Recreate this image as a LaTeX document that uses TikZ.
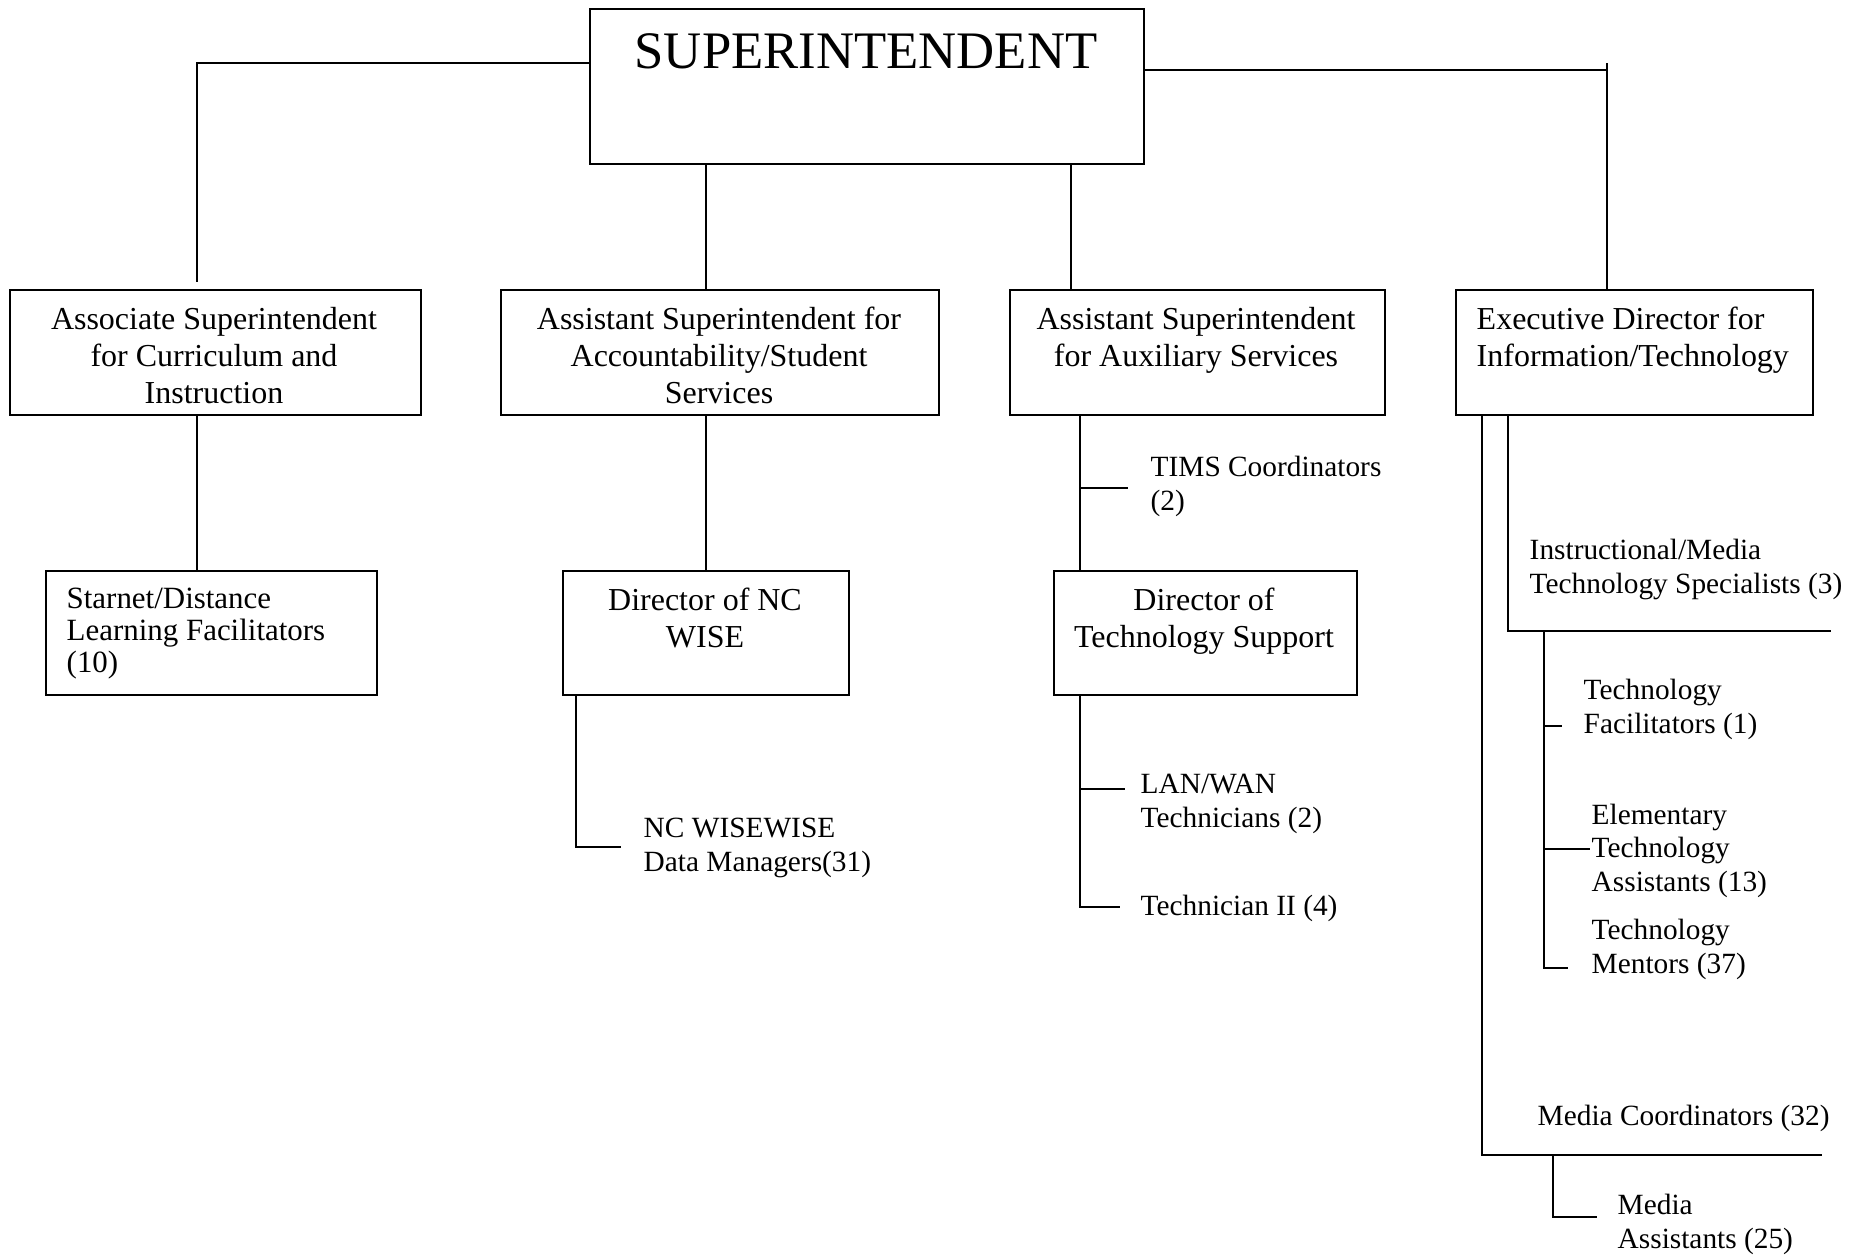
\documentclass[tikz,border=0pt]{standalone}
\usepackage{fontspec}
\setmainfont{Liberation Serif}
\usepackage{tikz}
\usetikzlibrary{positioning}
\newcommand{\topfont}{\fontsize{15}{18}\selectfont}
\newcommand{\boxfont}{\fontsize{9.1}{10.5}\selectfont}
\newcommand{\smallboxfont}{\fontsize{8.8}{9.1}\selectfont}
\newcommand{\lblfont}{\fontsize{8.35}{9.5}\selectfont}
\tikzset{
  unit/.style={draw, line width=0.6pt, inner sep=0pt, anchor=north west},
  unittext/.style={font=\boxfont, align=center, inner sep=0pt, anchor=base},
  staff/.style={font=\lblfont, align=left, inner sep=0pt, anchor=base west},
  link/.style={line width=0.6pt}
}

\begin{document}
\begin{tikzpicture}[x=0.1mm,y=-0.1mm]
\useasboundingbox (0,0) rectangle (1864,1256);
% boxes
\node[unit, minimum width=55.4mm, minimum height=15.5mm] (super) at (589,8) {};
\node[unit, minimum width=41.1mm, minimum height=12.5mm] (assoc) at (9,289) {};
\node[unit, minimum width=43.8mm, minimum height=12.5mm] (acct) at (500,289) {};
\node[unit, minimum width=37.5mm, minimum height=12.5mm] (aux) at (1009,289) {};
\node[unit, minimum width=35.7mm, minimum height=12.5mm] (infotech) at (1455,289) {};
\node[unit, minimum width=33.1mm, minimum height=12.4mm] (starnet) at (45,570) {};
\node[unit, minimum width=28.6mm, minimum height=12.4mm] (ncwise) at (562,570) {};
\node[unit, minimum width=30.3mm, minimum height=12.4mm] (techsup) at (1053,570) {};
% box titles (placed by the baseline of their last line)
\node[unittext, font=\topfont] (supertxt) at (866,68) {SUPERINTENDENT};
\node[unittext] (assoctxt) at (214,403) {Associate Superintendent\\for Curriculum and\\Instruction};
\node[unittext] (accttxt) at (719,403) {Assistant Superintendent for\\Accountability/Student\\Services};
\node[unittext] (auxtxt) at (1196,366) {Assistant Superintendent\\for Auxiliary Services};
\node[unittext, align=left, anchor=base west] (infotechtxt) at (1476,366) {Executive Director for\\Information/Technology};
\node[staff, font=\smallboxfont] (starnettxt) at (66,672) {Starnet/Distance\\Learning Facilitators\\(10)};
\node[unittext] (ncwisetxt) at (705,647) {Director of NC\\WISE};
\node[unittext] (techsuptxt) at (1204,647) {Director of\\Technology Support};
% staff groups
\node[staff] (tims) at (1150,510) {TIMS Coordinators\\(2)};
\node[staff] (lanwan) at (1140,827) {LAN/WAN\\Technicians (2)};
\node[staff] (tech2) at (1140,915) {Technician II (4)};
\node[staff] (ncdata) at (643,871) {NC WISEWISE\\Data Managers(31)};
\node[staff] (instr) at (1529,593) {Instructional/Media\\Technology Specialists (3)};
\node[staff] (techfac) at (1583,733) {Technology\\Facilitators (1)};
\node[staff] (elem) at (1591,891) {Elementary\\Technology\\Assistants (13)};
\node[staff] (mentors) at (1591,973) {Technology\\Mentors (37)};
\node[staff] (mediacoord) at (1537,1125) {Media Coordinators (32)};
\node[staff] (mediaast) at (1617,1248) {Media\\Assistants (25)};
% corners and free ends
\coordinate (lt) at (197,63);
\coordinate (rt) at (1607,70);
\coordinate (auxin) at (1071,163);
\coordinate (auxdn) at (1080,414);
\coordinate (timsend) at (1128,488);
\coordinate (lanend) at (1125,789);
\coordinate (tech2end) at (1120,907);
\coordinate (ncx) at (576,847);
\coordinate (ncend) at (621,847);
\coordinate (dm) at (1482,1155);
\coordinate (dmend) at (1822,1155);
\coordinate (di) at (1508,631);
\coordinate (diend) at (1831,631);
\coordinate (dt) at (1544,968);
\coordinate (dtend) at (1568,968);
\coordinate (facend) at (1562,726);
\coordinate (elemend) at (1590,849);
\coordinate (ma) at (1553,1217);
\coordinate (maend) at (1597,1217);
% connectors
\draw[link] (super.west |- lt) -- (lt) -- ([yshift=0.7mm]assoc.north -| lt);
\draw[link] (assoc.south -| lt) -- (starnet.north -| lt);
\draw[link] (super.east |- rt) -- (rt);
\draw[link] ([yshift=0.7mm]rt) -- (infotech.north -| rt);
\draw[link] (super.south -| ncwise.north) -- (acct.north -| ncwise.north);
\draw[link] (acct.south -| ncwise.north) -- (ncwise.north);
\draw[link] (auxin) -- (aux.north -| auxin);
\draw[link] (aux.south -| auxdn) -- (techsup.north -| auxdn);
\draw[link] (auxdn |- timsend) -- (timsend);
\draw[link] (techsup.south -| auxdn) -- (auxdn |- tech2end) -- (tech2end);
\draw[link] (auxdn |- lanend) -- (lanend);
\draw[link] ([yshift=0.2mm]ncwise.south -| ncx) -- (ncx) -- (ncend);
\draw[link] (infotech.south -| dm) -- (dm) -- (dmend);
\draw[link] (infotech.south -| di) -- (di) -- (diend);
\draw[link] (di -| dt) -- (dt) -- (dtend);
\draw[link] (dt |- facend) -- (facend);
\draw[link] (dt |- elemend) -- (elemend);
\draw[link] (dm -| ma) -- (ma) -- (maend);
\end{tikzpicture}
\end{document}
